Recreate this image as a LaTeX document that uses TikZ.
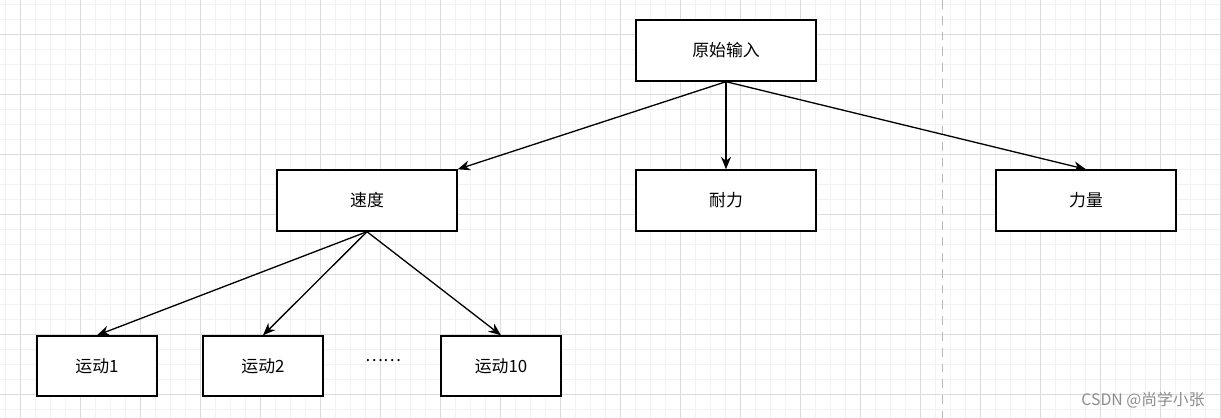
\documentclass[tikz,border=0pt]{standalone}
\usepackage{fontspec}
\newfontfamily\cjk{Noto Sans CJK SC}
\usetikzlibrary{arrows.meta}

\begin{document}
\begin{tikzpicture}[x=0.02cm,y=-0.02cm,
    box/.style={draw,line width=0.8pt,fill=white,inner sep=0pt,
      minimum width=3.6cm,minimum height=1.22cm,font=\cjk\fontsize{9.6}{11}\selectfont},
    smallbox/.style={box,minimum width=2.4cm,minimum height=1.2cm},
    link/.style={line width=0.75pt,-{Stealth[length=2.5mm,width=2mm]}}]
      \useasboundingbox (0,0) rectangle (1221,418);
      \fill[white] (0,0) rectangle (1221,418);
      % grid
      \foreach \x in {5,20,...,1220} \draw[black!5,line width=0.4pt] (\x,0) -- (\x,418);
      \foreach \y in {4,19,...,418} \draw[black!5,line width=0.4pt] (0,\y) -- (1221,\y);
      \foreach \x in {20,80,...,1220} \draw[black!14,line width=0.5pt] (\x,0) -- (\x,418);
      \foreach \y in {34,94,...,418} \draw[black!14,line width=0.5pt] (0,\y) -- (1221,\y);
      \draw[black!28,line width=0.5pt,dash pattern=on 5 off 4] (942,0) -- (942,418);
      % nodes
      \node[box] (in) at (726,50.5) {原始输入};
      \node[box] (sd) at (367,200.5) {速度};
      \node[box] (nl) at (726,200.5) {耐力};
      \node[box] (ll) at (1086,200.5) {力量};
      \node[smallbox] (yd1) at (97,366) {运动1};
      \node[smallbox] (yd2) at (263,366) {运动2};
      \node[smallbox] (yd10) at (501,366) {运动10};
      \node[font=\cjk\fontsize{9.6}{11}\selectfont] (dots) at (383,361) {……};
      % arrows
      \draw[link] (in.south) -- (sd.north east);
      \draw[link] (in.south) -- (nl.north);
      \draw[link] (in.south) -- (ll.north);
      \draw[link] (sd.south) -- (yd1.north);
      \draw[link] (sd.south) -- (yd2.north);
      \draw[link] (sd.south) -- (yd10.north);
      \node[black!45,font=\cjk\fontsize{9}{10}\selectfont] (wm) at (1143,400) {CSDN @尚学小张};
    \end{tikzpicture}
\end{document}
